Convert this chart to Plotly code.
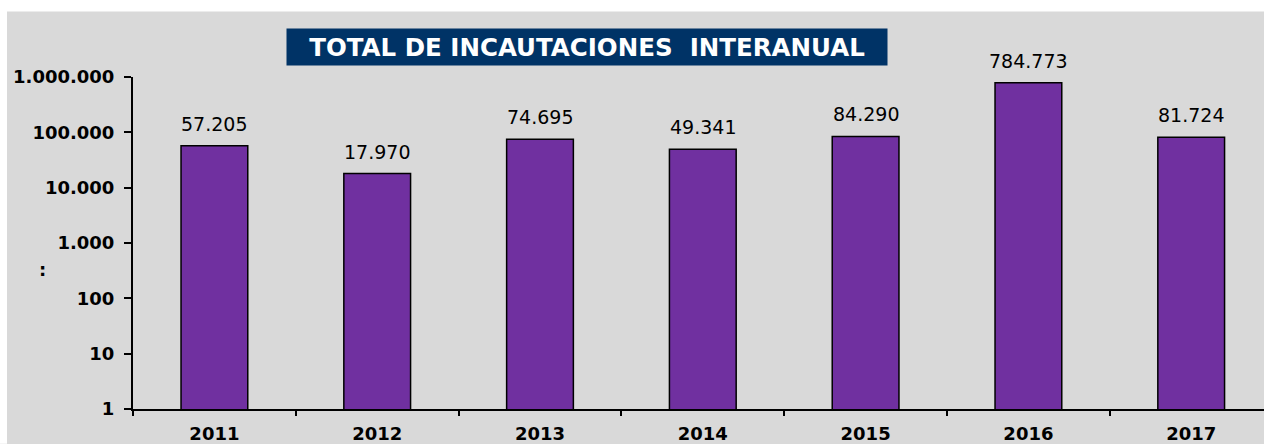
import numpy as np
import plotly.graph_objects as go

years = ["2011", "2012", "2013", "2014", "2015", "2016", "2017"]
values = [57205, 17970, 74695, 49341, 84290, 784773, 81724]
ytick_vals = [1, 10, 100, 1000, 10000, 100000, 1000000]
ytick_text = ["1", "10", "100", "1.000", "10.000", "100.000", "1.000.000"]
title_text = "TOTAL DE INCAUTACIONES  INTERANUAL"


def fmt(v):
    return f"{v:,}".replace(",", ".")


W, H = 1264, 444
L, R, T, B = 133, 0, 77, 33
pw = W - L - R
ph = H - T - B
cat_w = 162.8


def px2x(px):
    return (px - L) / pw


def py2y(py):
    return (H - B - py) / ph


GREY = "#D9D9D9"
FONT = "DejaVu Sans"

fig = go.Figure()
fig.add_trace(go.Bar(
    x=years,
    y=values,
    marker=dict(color="#7030A0", line=dict(color="#000000", width=1.5)),
    hoverinfo="skip",
))

annotations = []
# value labels above each bar (x given as category index, y in log10 units)
for i, v in enumerate(values):
    annotations.append(dict(
        x=i, y=float(np.log10(v)), xref="x", yref="y",
        text=fmt(v), showarrow=False, xanchor="center", yanchor="bottom",
        yshift=9,
        font=dict(family=FONT, size=19, color="#000000"),
    ))

annotations.append(dict(
    x=px2x(586.5), y=py2y(47), xref="paper", yref="paper",
    text="<b>" + title_text + "</b>", showarrow=False,
    xanchor="center", yanchor="middle",
    width=600, height=36, borderpad=0, bgcolor="#003366",
    font=dict(family=FONT, size=24.5, color="#FFFFFF"),
))
annotations.append(dict(
    x=px2x(42), y=py2y(271), xref="paper", yref="paper",
    text="<b>:</b>", showarrow=False, xanchor="center", yanchor="middle",
    font=dict(family=FONT, size=18, color="#000000"),
))

shapes = [
    dict(type="rect", xref="paper", yref="paper", layer="below",
         x0=px2x(-2), x1=px2x(7), y0=py2y(H + 2), y1=py2y(-2),
         fillcolor="#FFFFFF", line=dict(width=0)),
    dict(type="rect", xref="paper", yref="paper", layer="below",
         x0=px2x(-2), x1=px2x(W + 2), y0=py2y(11), y1=py2y(-2),
         fillcolor="#FFFFFF", line=dict(width=0)),
]

fig.update_layout(
    width=W, height=H,
    margin=dict(l=L, r=R, t=T, b=B, pad=0),
    paper_bgcolor=GREY, plot_bgcolor=GREY,
    bargap=0.59,
    showlegend=False,
    annotations=annotations,
    shapes=shapes,
    font=dict(family=FONT, color="#000000"),
    xaxis=dict(
        type="category",
        range=[-0.5, -0.5 + pw / cat_w],
        showgrid=False, zeroline=False,
        showline=True, linecolor="#000000", linewidth=2,
        ticks="outside", tickson="boundaries", ticklen=5, tickcolor="#000000", tickwidth=2,
        tickfont=dict(family=FONT, size=18, color="#000000", weight="bold"),
        ticklabelstandoff=7,
    ),
    yaxis=dict(
        type="log",
        range=[0, 6],
        tickvals=ytick_vals, ticktext=ytick_text,
        showgrid=False, zeroline=False,
        showline=True, linecolor="#000000", linewidth=2,
        ticks="outside", ticklen=7, tickcolor="#000000", tickwidth=2,
        tickfont=dict(family=FONT, size=18, color="#000000", weight="bold"),
        ticklabelstandoff=6,
    ),
)

fig.write_html(
    "out.html",
    config={"displayModeBar": False},
    post_script="document.body.style.margin='0';document.body.style.overflow='hidden';",
)
